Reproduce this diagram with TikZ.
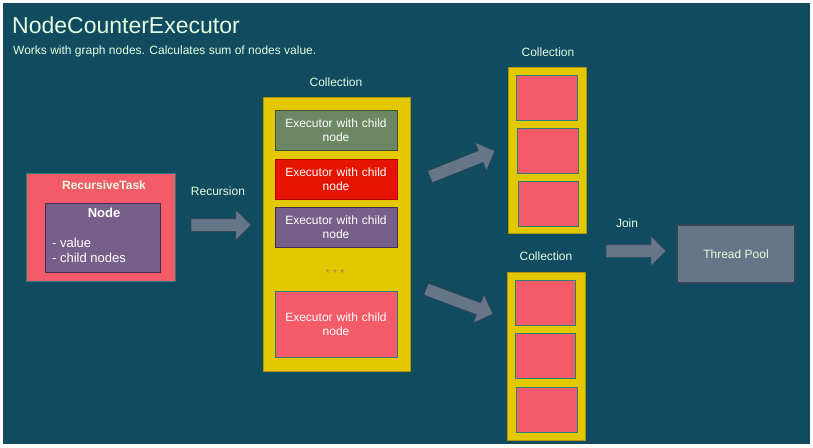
\documentclass[tikz,border=0pt]{standalone}
\usepackage{fontspec}
\setmainfont{Liberation Sans}
\usetikzlibrary{shapes.arrows}
\definecolor{bgteal}{HTML}{114B5F}
\definecolor{inkgreen}{HTML}{E4FDE1}
\definecolor{pinkfill}{HTML}{F45B69}
\definecolor{pinkline}{HTML}{2A7F80}
\definecolor{yellowfill}{HTML}{E3C800}
\definecolor{yellowline}{HTML}{B09500}
\definecolor{greyfill}{HTML}{647687}
\definecolor{greyline}{HTML}{314354}
\definecolor{greenfill}{HTML}{6D8764}
\definecolor{greenline}{HTML}{3A5431}
\definecolor{redfill}{HTML}{E51400}
\definecolor{redline}{HTML}{B20000}
\definecolor{purplefill}{HTML}{76608A}
\definecolor{purpleline}{HTML}{432D57}
\tikzset{
  lbl/.style={text=inkgreen,font=\fontsize{12}{14}\selectfont,inner sep=0pt},
  box/.style={draw,line width=0.8pt,inner sep=0pt,minimum width=#1},
  execbox/.style={box=122pt,text=white,align=center,text width=120pt,font=\fontsize{12}{14}\selectfont},
  slot/.style={box=61pt,minimum height=45pt,fill=pinkfill,draw=pinkline},
  bigarrow/.style={shape=single arrow,fill=greyfill,draw=greyline,line width=0.6pt,
    inner xsep=0pt,inner ysep=6pt,single arrow head extend=9pt,minimum height=#1}
}
\begin{document}
\begin{tikzpicture}[x=1pt,y=-1pt]
  \useasboundingbox (0,0) rectangle (813,447);
  \fill[bgteal] (3,3) rectangle (810,444);
  % heading
  \node[lbl,anchor=base west,font=\fontsize{23}{26}\selectfont] (title) at (12,33) {NodeCounterExecutor};
  \node[lbl,anchor=base west] (subtitle) at (13,54) {Works with graph nodes. Calculates sum of nodes value.};
  % task
  \node[box=149pt,minimum height=108pt,fill=pinkfill,draw=pinkline] (task) at (100.5,227) {};
  \node[lbl,font=\fontsize{12}{14}\selectfont\bfseries] (tasklbl) at (104,185) {RecursiveTask};
  \node[box=115pt,minimum height=69pt,fill=purplefill,draw=purpleline] (node) at (102.5,237.5) {};
  \node[lbl,text=white,font=\fontsize{13}{15}\selectfont\bfseries] (nodelbl) at (104,213) {Node};
  \node[lbl,text=white,anchor=west,align=left,font=\fontsize{13}{15}\selectfont] (fields) at (52,250) {- value\\ - child nodes};
  \node[lbl] (reclbl) at (218,191) {Recursion};
  \node[bigarrow=60pt] (recarrow) at (218,225) {};
  % main collection
  \node[lbl] (collA) at (336,82) {Collection};
  \node[box=147pt,minimum height=274pt,fill=yellowfill,draw=yellowline] (coll) at (336.5,234) {};
  \node[execbox,minimum height=40pt,fill=greenfill,draw=greenline] (exec1) at (336,130) {Executor with child\\node};
  \node[execbox,minimum height=40pt,fill=redfill,draw=redline] (exec2) at (336,179) {Executor with child\\node};
  \node[execbox,minimum height=40pt,fill=purplefill,draw=purpleline] (exec3) at (336,227) {Executor with child\\node};
  \node[inner sep=0pt,text=purplefill!70!yellowfill,font=\fontsize{10}{10}\selectfont] (dots) at (335,273) {*\,\,*\,\,*};
  \node[execbox,minimum height=66pt,fill=pinkfill,draw=pinkline] (exec4) at (336,324) {Executor with child\\node};
  % split
  \node[bigarrow=70pt,rotate=21.8] (uparrow) at (459.5,165) {};
  \node[bigarrow=71.5pt,rotate=-20.5] (downarrow) at (456.5,300.5) {};
  % upper collection
  \node[lbl] (collB) at (548,52) {Collection};
  \node[box=78pt,minimum height=166pt,fill=yellowfill,draw=yellowline] (upper) at (547,150) {};
  \node[slot] (up1) at (546.5,97.5) {};
  \node[slot] (up2) at (547.5,150.5) {};
  \node[slot,minimum width=60pt] (up3) at (548,203.5) {};
  % lower collection
  \node[lbl] (collC) at (546,256) {Collection};
  \node[box=78pt,minimum height=168pt,fill=yellowfill,draw=yellowline] (lower) at (546,356) {};
  \node[slot,minimum width=60pt] (low1) at (545,302.5) {};
  \node[slot,minimum width=60pt] (low2) at (545,355.5) {};
  \node[slot] (low3) at (546.5,409.5) {};
  % join
  \node[lbl] (joinlbl) at (627,223) {Join};
  \node[bigarrow=60pt] (joinarrow) at (633,251) {};
  \node[box=118pt,minimum height=58pt,line width=2.5pt,fill=greyfill,draw=greyline,text=inkgreen,font=\fontsize{12}{14}\selectfont] (pool) at (736,254) {Thread Pool};
\end{tikzpicture}
\end{document}
